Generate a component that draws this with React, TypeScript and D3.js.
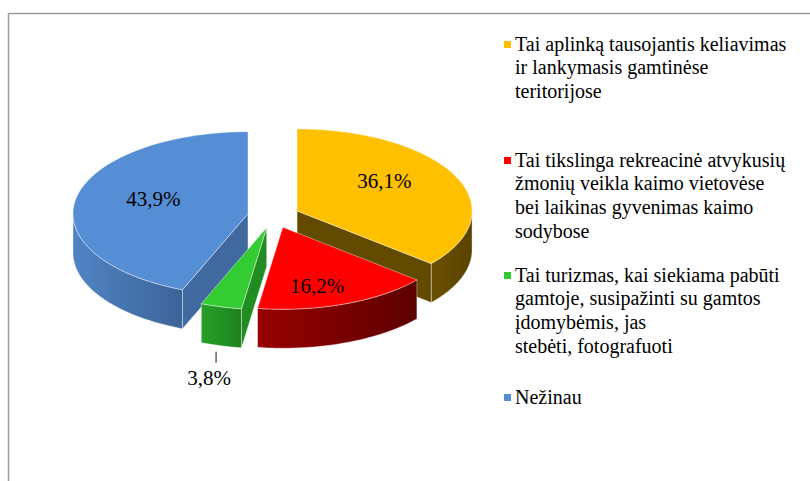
import React from "react";
import * as d3 from "d3";

const legendLines: string[][] = [
  ["Tai aplinką tausojantis keliavimas", "ir lankymasis gamtinėse", "teritorijose"],
  ["Tai tikslinga rekreacinė atvykusių", "žmonių veikla kaimo vietovėse", "bei laikinas gyvenimas kaimo", "sodybose"],
  ["Tai turizmas, kai siekiama pabūti", "gamtoje, susipažinti su gamtos", "įdomybėmis, jas", "stebėti, fotografuoti"],
  ["Nežinau"],
];
const values = [36.1, 16.2, 3.8, 43.9];
const valueLabels = ["36,1%", "16,2%", "3,8%", "43,9%"];
const topColors = ["#FFC000", "#FF0000", "#33CC33", "#558ED5"];
const sideColorsA = ["#6a5000", "#990000", "#27a027", "#5083c4"];
const sideColorsB = ["#5a4300", "#5c0000", "#1e821e", "#3c6498"];
const faceColors = ["#624a00", "#7a0000", "#218c21", "#40699f"];
const legendFirstY = [44, 160, 275, 397];

const W = 810;
const H = 481;
const cx = 273.5;
const cy = 216;
const rx = 175;
const ry = 82;
const depth = 39;
const explodeX = 26;
const explodeY = 12;
const FONT = '"Liberation Serif"';

type Pt = [number, number];

export default function App() {
  const pie = d3.pie<number>().sort(null).value((d) => d)(values);
  const line = d3.line<Pt>().x((d) => d[0]).y((d) => d[1]);

  const slices = pie.map((p, i) => {
    const mid = (p.startAngle + p.endAngle) / 2;
    const dx = explodeX * Math.sin(mid);
    const dy = -explodeY * Math.cos(mid);
    const proj = (a: number, r: number, z: number): Pt => [
      cx + dx + rx * r * Math.sin(a),
      cy + dy - ry * r * Math.cos(a) + z,
    ];
    const arcPts = (a0: number, a1: number, z: number): Pt[] => {
      const n = Math.max(2, Math.ceil(Math.abs(a1 - a0) / 0.02));
      return d3.range(n + 1).map((k) => proj(a0 + ((a1 - a0) * k) / n, 1, z));
    };
    const apex = proj(0, 0, 0);
    const apexB = proj(0, 0, depth);
    const top = [apex, ...arcPts(p.startAngle, p.endAngle, 0)];
    const s0 = Math.max(p.startAngle, Math.PI / 2);
    const s1 = Math.min(p.endAngle, (3 * Math.PI) / 2);
    let rim: Pt[] | null = null;
    if (s1 > s0) {
      rim = [...arcPts(s0, s1, 0), ...arcPts(s1, s0, depth)];
    }
    const faces: Pt[][] = [];
    const startNormal = p.startAngle - Math.PI / 2;
    const endNormal = p.endAngle + Math.PI / 2;
    if (-Math.cos(startNormal) > 0.01) {
      faces.push([apex, proj(p.startAngle, 1, 0), proj(p.startAngle, 1, depth), apexB]);
    }
    if (-Math.cos(endNormal) > 0.01) {
      faces.push([apex, proj(p.endAngle, 1, 0), proj(p.endAngle, 1, depth), apexB]);
    }
    const inside = p.value >= 5;
    const labelPos: Pt = [
      apex[0] + rx * 0.55 * Math.sin(mid),
      apex[1] - ry * 0.8 * Math.cos(mid) - 3,
    ];
    const rimBottom = proj(mid, 1, depth);
    return { i, p, mid, top, rim, faces, inside, labelPos, rimBottom, sortKey: -Math.cos(mid) };
  });

  const order = [...slices].sort((a, b) => a.sortKey - b.sortKey);
  const fmt = (pts: Pt[]) => (line(pts) || "") + "Z";
  const textStyle = { fontFamily: FONT };

  return (
    <svg
      width={W}
      height={H}
      viewBox={`0 0 ${W} ${H}`}
      style={{ position: "absolute", left: 0, top: 0, background: "#fff" }}
    >
      <defs>
        {slices.map((s) => (
          <linearGradient key={s.i} id={`side${s.i}`} x1="0" y1="0" x2="1" y2="0">
            <stop offset="0" stopColor={sideColorsA[s.i]} />
            <stop offset="1" stopColor={sideColorsB[s.i]} />
          </linearGradient>
        ))}
      </defs>
      <rect x={0} y={0} width={W} height={H} fill="#fff" />
      <line x1={8.5} y1={13.5} x2={W} y2={13.5} stroke="#9c9c9c" strokeWidth={1.5} />
      <line x1={8.5} y1={13.5} x2={8.5} y2={H} stroke="#9c9c9c" strokeWidth={1.5} />

      {order.map((s) => (
        <g key={s.i}>
          {s.rim && (
            <path d={fmt(s.rim)} fill={`url(#side${s.i})`} stroke="rgba(255,255,255,0.55)" strokeWidth={0.7} />
          )}
          {s.faces.map((f, k) => (
            <path key={k} d={fmt(f)} fill={faceColors[s.i]} stroke="rgba(255,255,255,0.55)" strokeWidth={0.7} />
          ))}
          <path d={fmt(s.top)} fill={topColors[s.i]} stroke="rgba(255,255,255,0.6)" strokeWidth={0.7} />
        </g>
      ))}

      {slices.map((s) =>
        s.inside ? (
          <text
            key={s.i}
            x={s.labelPos[0]}
            y={s.labelPos[1]}
            dy="0.35em"
            textAnchor="middle"
            style={textStyle}
            fontSize={21}
            fill="#000"
          >
            {valueLabels[s.i]}
          </text>
        ) : (
          <g key={s.i}>
            <line
              x1={s.rimBottom[0] - 5}
              y1={s.rimBottom[1] + 6}
              x2={s.rimBottom[0] - 5}
              y2={s.rimBottom[1] + 17}
              stroke="#404040"
              strokeWidth={1.2}
            />
            <text
              x={s.rimBottom[0] - 12}
              y={s.rimBottom[1] + 39}
              textAnchor="middle"
              style={textStyle}
              fontSize={21}
              fill="#000"
            >
              {valueLabels[s.i]}
            </text>
          </g>
        )
      )}

      {legendLines.map((lines, i) => (
        <g key={i}>
          <rect x={504} y={legendFirstY[i] - 3} width={7} height={7} fill={topColors[i]} />
          {lines.map((t, k) => (
            <text
              key={k}
              x={515}
              y={legendFirstY[i] + k * 23.7}
              dy="0.33em"
              style={textStyle}
              fontSize={20}
              fill="#000"
            >
              {t}
            </text>
          ))}
        </g>
      ))}
    </svg>
  );
}
